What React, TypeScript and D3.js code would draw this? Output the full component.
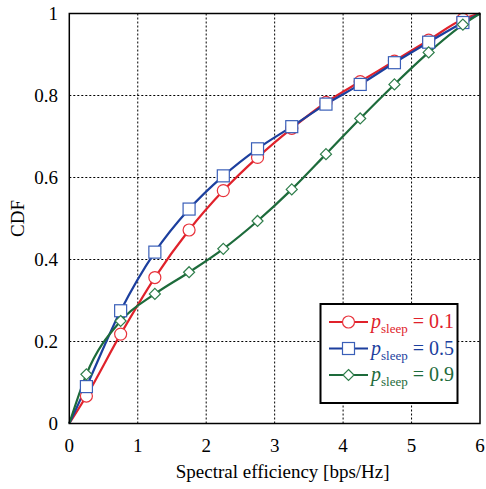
import React from "react";
import * as d3 from "d3";

const xValues = [0.25, 0.75, 1.25, 1.75, 2.25, 2.75, 3.25, 3.75, 4.25, 4.75, 5.25, 5.75];
const cdfP01 = [0.067, 0.218, 0.356, 0.472, 0.568, 0.649, 0.72, 0.783, 0.834, 0.884, 0.935, 0.986];
const cdfP05 = [0.09, 0.275, 0.418, 0.523, 0.604, 0.67, 0.724, 0.779, 0.827, 0.88, 0.93, 0.978];
const cdfP09 = [0.12, 0.25, 0.316, 0.369, 0.426, 0.494, 0.571, 0.657, 0.744, 0.827, 0.905, 0.973];
const xTicks = [0, 1, 2, 3, 4, 5, 6];
const yTicks = [0, 0.2, 0.4, 0.6, 0.8, 1];
const seriesLabels = ["0.1", "0.5", "0.9"];

const W = 486, H = 489;
const m = { left: 69.3, right: 480, top: 13.5, bottom: 423.5 };
const font = "Liberation Serif, Times New Roman, Times, serif";

const series = [
  { values: cdfP01, color: "#e0222b", mcolor: "#e8333c", marker: "circle", label: seriesLabels[0] },
  { values: cdfP05, color: "#1c3f9e", mcolor: "#3a5fb8", marker: "square", label: seriesLabels[1] },
  { values: cdfP09, color: "#1d6b3b", mcolor: "#2e7d4a", marker: "diamond", label: seriesLabels[2] },
];

function Marker({ type, x, y, color }: { type: string; x: number; y: number; color: string }) {
  if (type === "circle") return <circle cx={x} cy={y} r={6} fill="#fff" stroke={color} strokeWidth={1.2} />;
  if (type === "square") return <rect x={x - 6} y={y - 6} width={12} height={12} fill="#fff" stroke={color} strokeWidth={1.2} />;
  const s = 5.5;
  return <path d={`M${x},${y - s}L${x + s},${y}L${x},${y + s}L${x - s},${y}Z`} fill="#fff" stroke={color} strokeWidth={1.2} />;
}

export default function App() {
  const x = d3.scaleLinear().domain([0, 6]).range([m.left, m.right]);
  const y = d3.scaleLinear().domain([0, 1]).range([m.bottom, m.top]);
  const line = d3.line<[number, number]>().x(d => x(d[0])).y(d => y(d[1])).curve(d3.curveMonotoneX);

  return (
    <svg width={W} height={H} style={{ position: "absolute", left: 0, top: 0, fontFamily: font }}>
      <rect x={0} y={0} width={W} height={H} fill="#fff" />
      {xTicks.slice(1, -1).map(t => (
        <line key={"gx" + t} x1={x(t)} x2={x(t)} y1={m.top} y2={m.bottom} stroke="#000" strokeWidth={1} strokeDasharray="2,2" />
      ))}
      {yTicks.slice(1, -1).map(t => (
        <line key={"gy" + t} x1={m.left} x2={m.right} y1={y(t)} y2={y(t)} stroke="#000" strokeWidth={1} strokeDasharray="2,2" />
      ))}
      {series.map((s, i) => {
        const pts: [number, number][] = [[0, 0], ...xValues.map((xv, j) => [xv, s.values[j]] as [number, number]), [6, 1]];
        return <path key={"l" + i} d={line(pts) || ""} fill="none" stroke={s.color} strokeWidth={2.2} />;
      })}
      {series.map((s, i) =>
        xValues.map((xv, j) => <Marker key={`m${i}-${j}`} type={s.marker} x={x(xv)} y={y(s.values[j])} color={s.mcolor} />)
      )}
      <rect x={m.left} y={m.top} width={m.right - m.left} height={m.bottom - m.top} fill="none" stroke="#000" strokeWidth={1.5} />
      {xTicks.map(t => (
        <text key={"xt" + t} x={x(t)} y={452} textAnchor="middle" fontSize={19}>{t}</text>
      ))}
      {yTicks.map(t => (
        <text key={"yt" + t} x={58} y={y(t) + 6} textAnchor="end" fontSize={19}>{t === 0 || t === 1 ? String(t) : t.toFixed(1)}</text>
      ))}
      <text x={(m.left + m.right) / 2 + 8} y={478} textAnchor="middle" fontSize={19}>Spectral efficiency [bps/Hz]</text>
      <text transform={`translate(24,${(m.top + m.bottom) / 2}) rotate(-90)`} textAnchor="middle" fontSize={19}>CDF</text>
      <g>
        <rect x={320.5} y={304} width={137} height={99} fill="#fff" stroke="#000" strokeWidth={2} />
        {series.map((s, i) => {
          const ly = 322 + i * 26.5;
          return (
            <g key={"lg" + i}>
              <line x1={329} x2={368} y1={ly} y2={ly} stroke={s.color} strokeWidth={2.2} />
              <Marker type={s.marker} x={348.5} y={ly} color={s.mcolor} />
              <text x={371} y={ly + 6} fill={s.color} fontSize={20}>
                <tspan fontStyle="italic">p</tspan>
                <tspan fontSize={13} dy={5}>sleep</tspan>
                <tspan dy={-5}> = {s.label}</tspan>
              </text>
            </g>
          );
        })}
      </g>
    </svg>
  );
}
